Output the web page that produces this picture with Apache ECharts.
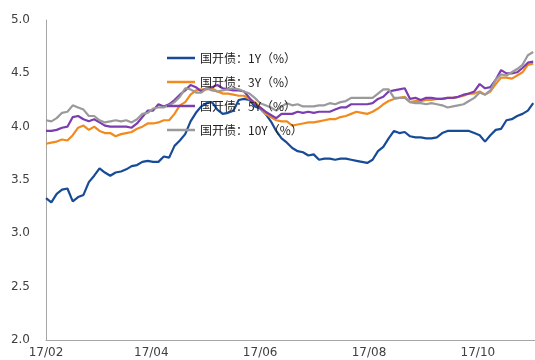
<!DOCTYPE html>
<html>
<head>
<meta charset="utf-8">
<script src="https://cdn.jsdelivr.net/npm/echarts@6/dist/echarts.min.js"></script>
<style>
html,body{margin:0;padding:0;background:#fff;}
#chart{width:535px;height:360px;}
</style>
</head>
<body>
<div id="chart"></div>
<script>
// Observation dates: every 3 calendar days starting 2017-02-01
var startDate = [2017, 1, 1];
var stepDays = 3;
var pointCount = 92;

var seriesNames = ['国开债：1Y（%）', '国开债：3Y（%）', '国开债：5Y（%）', '国开债：10Y（%）'];

var cdb1Y = [3.33,3.29,3.37,3.41,3.42,3.30,3.34,3.36,3.48,3.54,3.61,3.57,3.54,3.57,3.58,3.60,3.63,3.64,3.67,3.68,3.67,3.67,3.72,3.71,3.82,3.87,3.93,4.05,4.13,4.19,4.22,4.23,4.16,4.12,4.13,4.15,4.25,4.26,4.25,4.19,4.17,4.12,4.05,3.96,3.89,3.85,3.80,3.77,3.76,3.73,3.74,3.69,3.70,3.70,3.69,3.70,3.70,3.69,3.68,3.67,3.66,3.69,3.77,3.81,3.89,3.96,3.94,3.95,3.91,3.90,3.90,3.89,3.89,3.90,3.94,3.96,3.96,3.96,3.96,3.96,3.94,3.92,3.86,3.92,3.97,3.98,4.06,4.07,4.10,4.12,4.15,4.22];

var cdb3Y = [3.84,3.85,3.86,3.88,3.87,3.92,3.99,4.01,3.97,4.00,3.96,3.94,3.94,3.91,3.93,3.94,3.95,3.98,4.00,4.03,4.03,4.04,4.06,4.06,4.12,4.20,4.23,4.30,4.34,4.35,4.35,4.36,4.33,4.31,4.31,4.30,4.29,4.29,4.26,4.23,4.18,4.12,4.09,4.06,4.05,4.05,4.01,4.02,4.03,4.04,4.04,4.05,4.06,4.07,4.07,4.09,4.10,4.12,4.14,4.13,4.12,4.14,4.17,4.21,4.24,4.26,4.27,4.28,4.23,4.24,4.24,4.25,4.25,4.26,4.26,4.27,4.27,4.28,4.29,4.31,4.31,4.33,4.30,4.33,4.40,4.46,4.46,4.45,4.48,4.51,4.58,4.59];

var cdb5Y = [3.96,3.96,3.97,3.99,4.00,4.09,4.10,4.07,4.05,4.07,4.04,4.01,4.00,4.00,4.00,4.00,3.99,4.03,4.09,4.15,4.15,4.21,4.19,4.21,4.25,4.30,4.34,4.39,4.37,4.33,4.36,4.37,4.39,4.36,4.35,4.34,4.34,4.33,4.27,4.21,4.18,4.14,4.11,4.08,4.12,4.12,4.12,4.14,4.13,4.14,4.13,4.14,4.14,4.14,4.16,4.18,4.18,4.21,4.21,4.21,4.21,4.22,4.26,4.28,4.33,4.34,4.35,4.36,4.26,4.27,4.25,4.27,4.27,4.26,4.26,4.27,4.27,4.28,4.30,4.31,4.33,4.40,4.36,4.37,4.44,4.53,4.50,4.50,4.51,4.55,4.60,4.61];

var cdb10Y = [4.06,4.05,4.08,4.13,4.14,4.20,4.18,4.16,4.10,4.10,4.06,4.04,4.05,4.06,4.05,4.06,4.04,4.07,4.12,4.13,4.17,4.18,4.18,4.20,4.23,4.28,4.36,4.35,4.32,4.32,4.36,4.34,4.33,4.34,4.35,4.36,4.35,4.33,4.31,4.27,4.22,4.20,4.18,4.15,4.19,4.22,4.20,4.21,4.19,4.19,4.19,4.20,4.20,4.22,4.21,4.23,4.24,4.27,4.27,4.27,4.27,4.27,4.31,4.35,4.35,4.27,4.27,4.27,4.23,4.22,4.22,4.21,4.22,4.21,4.20,4.18,4.19,4.20,4.21,4.24,4.27,4.32,4.30,4.34,4.44,4.49,4.48,4.51,4.54,4.58,4.67,4.70];

var tickMonths = [[2017,1],[2017,3],[2017,5],[2017,7],[2017,9]];
var axisRange = [[2017,1,1],[2017,10,2]];
var yTicks = [2.0, 2.5, 3.0, 3.5, 4.0, 4.5, 5.0];

var colors = ['#174A97', '#F28A1E', '#7B3DB0', '#9A9A9A'];

var dates = [];
for (var i = 0; i < pointCount; i++) {
  dates.push(new Date(startDate[0], startDate[1], startDate[2] + i * stepDays).getTime());
}
function pairs(vals) { return vals.map(function (v, i) { return [dates[i], v]; }); }
var tickValues = tickMonths.map(function (m) { return new Date(m[0], m[1], 1).getTime(); });

var chart = echarts.init(document.getElementById('chart'), null, {renderer: 'canvas'});
var allData = [cdb1Y, cdb3Y, cdb5Y, cdb10Y];
chart.setOption({
  animation: false,
  color: colors,
  textStyle: {fontFamily: '"Noto Sans CJK SC", "DejaVu Sans", sans-serif'},
  grid: {left: 46, right: 0, top: 20, bottom: 20, containLabel: false},
  legend: {
    orient: 'vertical',
    left: 162,
    top: 46,
    icon: 'rect',
    itemWidth: 28,
    itemHeight: 2.5,
    itemGap: 10,
    data: seriesNames,
    textStyle: {fontSize: 12, color: '#222', fontFamily: '"Noto Sans CJK SC", sans-serif', lineHeight: 14}
  },
  xAxis: {
    type: 'value',
    min: new Date(axisRange[0][0], axisRange[0][1], axisRange[0][2]).getTime(),
    max: new Date(axisRange[1][0], axisRange[1][1], axisRange[1][2]).getTime(),
    axisLine: {show: true, onZero: false, lineStyle: {color: '#A6A6A6', width: 1}},
    axisTick: {show: false},
    splitLine: {show: false},
    axisLabel: {
      customValues: tickValues,
      showMinLabel: true,
      showMaxLabel: true,
      margin: 7,
      fontSize: 12,
      color: '#404040',
      fontFamily: '"DejaVu Sans", sans-serif',
      formatter: function (v) {
        var d = new Date(v);
        var m = d.getMonth() + 1;
        return String(d.getFullYear()).slice(2) + '/' + (m < 10 ? '0' + m : m);
      }
    }
  },
  yAxis: {
    type: 'value',
    min: yTicks[0],
    max: yTicks[yTicks.length - 1],
    interval: 0.5,
    axisLine: {show: true, lineStyle: {color: '#A6A6A6', width: 1}},
    axisTick: {show: false},
    splitLine: {show: false},
    axisLabel: {
      margin: 16,
      fontSize: 12,
      color: '#404040',
      fontFamily: '"DejaVu Sans", sans-serif',
      formatter: function (v) { return v.toFixed(1); }
    }
  },
  series: seriesNames.map(function (name, idx) {
    return {
      name: name,
      type: 'line',
      data: pairs(allData[idx]),
      showSymbol: false,
      symbol: 'none',
      lineStyle: {width: 2.2, color: colors[idx]},
      itemStyle: {color: colors[idx]}
    };
  })
});
</script>
</body>
</html>
